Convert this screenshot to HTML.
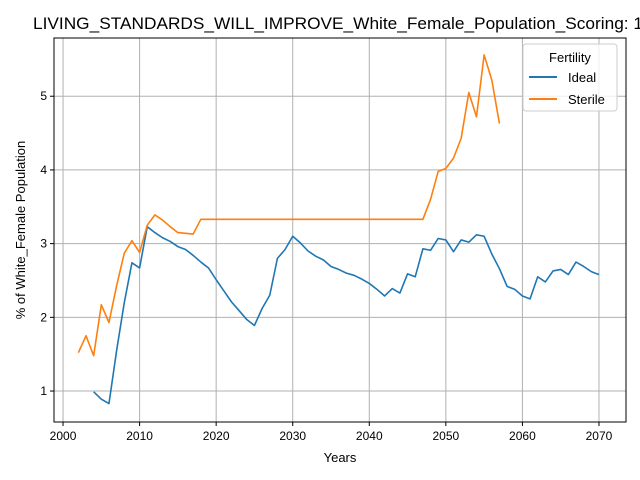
<!DOCTYPE html>
<html><head><meta charset="utf-8"><style>
html,body{margin:0;padding:0;background:#fff;}
svg{display:block;font-family:"Liberation Sans","DejaVu Sans",sans-serif;}
</style></head><body>
<svg id="chart" width="640" height="480" viewBox="0 0 640 480">
<rect width="640" height="480" fill="#fff"/>
<text x="33" y="29" font-size="17" textLength="610" lengthAdjust="spacingAndGlyphs" fill="#000">LIVING_STANDARDS_WILL_IMPROVE_White_Female_Population_Scoring: 1</text>
<g id="grid"></g>
<g id="series"></g>
<rect x="54" y="38" width="572" height="384" fill="none" stroke="#000" stroke-width="1"/>
<g id="ticks" font-size="12" fill="#000"></g>
<text x="340" y="462" font-size="13" text-anchor="middle">Years</text>
<text transform="translate(25,230) rotate(-90)" font-size="13" text-anchor="middle">% of White_Female Population</text>
<g>
<rect x="523" y="44" width="94" height="67" rx="3" fill="#fff" fill-opacity="0.8" stroke="#ccc"/>
<text x="570" y="62" font-size="13" text-anchor="middle">Fertility</text>
<g><line x1="529" y1="77" x2="557" y2="77" stroke="#1f77b4" stroke-width="2"/><text x="568" y="82" font-size="13">Ideal</text></g>
<g><line x1="529" y1="99" x2="557" y2="99" stroke="#ff7f0e" stroke-width="2"/><text x="568" y="104" font-size="13">Sterile</text></g>
</g>
</svg>
<script>
const idealStart = 2004;
const idealValues = [0.99,0.89,0.83,1.55,2.2,2.74,2.67,3.23,3.15,3.08,3.03,2.96,2.92,2.84,2.75,2.67,2.51,2.36,2.21,2.09,1.97,1.89,2.12,2.3,2.8,2.92,3.10,3.01,2.90,2.83,2.78,2.69,2.65,2.60,2.57,2.52,2.46,2.38,2.29,2.39,2.33,2.59,2.55,2.93,2.91,3.07,3.05,2.89,3.05,3.02,3.12,3.10,2.86,2.66,2.42,2.38,2.29,2.25,2.55,2.48,2.63,2.65,2.58,2.75,2.69,2.62,2.58];
const sterileStart = 2002;
const sterileValues = [1.52,1.75,1.48,2.17,1.93,2.43,2.87,3.04,2.88,3.25,3.39,3.32,3.23,3.15,3.14,3.13,3.33,3.33,3.33,3.33,3.33,3.33,3.33,3.33,3.33,3.33,3.33,3.33,3.33,3.33,3.33,3.33,3.33,3.33,3.33,3.33,3.33,3.33,3.33,3.33,3.33,3.33,3.33,3.33,3.33,3.33,3.6,3.98,4.02,4.16,4.43,5.05,4.72,5.56,5.22,4.63];
const xTicks = [2000,2010,2020,2030,2040,2050,2060,2070];
const yTicks = [1,2,3,4,5];

const NS = "http://www.w3.org/2000/svg";
const X0=54,X1=626,Y0=38,Y1=422;
const xMin=1998.82,xMax=2073.53,yMin=0.58,yMax=5.79;
function xs(v){return X0+(v-xMin)/(xMax-xMin)*(X1-X0);}
function ys(v){return Y1-(v-yMin)/(yMax-yMin)*(Y1-Y0);}
function mk(tag,attrs,parent){const e=document.createElementNS(NS,tag);for(const k in attrs)e.setAttribute(k,attrs[k]);parent.appendChild(e);return e;}
const grid=document.getElementById('grid'),ticks=document.getElementById('ticks'),series=document.getElementById('series');
xTicks.forEach(t=>{const x=xs(t);
  const g=mk('line',{x1:x,x2:x,y1:Y0,y2:Y1,stroke:'#b0b0b0','stroke-width':1},grid);
  
  
  mk('line',{x1:x,x2:x,y1:Y1,y2:Y1+4,stroke:'#000'},ticks);
  const l=mk('text',{x:x,y:Y1+18,'text-anchor':'middle'},ticks);l.textContent=t;
  
  
});
yTicks.forEach(t=>{const y=ys(t);
  const g=mk('line',{x1:X0,x2:X1,y1:y,y2:y,stroke:'#b0b0b0','stroke-width':1},grid);
  
  
  mk('line',{x1:X0-4,x2:X0,y1:y,y2:y,stroke:'#000'},ticks);
  const l=mk('text',{x:X0-7,y:y+4,'text-anchor':'end'},ticks);l.textContent=t;
  
  
});
function line(start,vals,color,name){
  const pts=vals.map((v,i)=>xs(start+i).toFixed(2)+','+ys(v).toFixed(2)).join(' ');
  const p=mk('polyline',{points:pts,fill:'none',stroke:color,'stroke-width':1.6,'stroke-linejoin':'round'},series);
  
  
}
line(idealStart,idealValues,'#1f77b4','ideal-line');
line(sterileStart,sterileValues,'#ff7f0e','sterile-line');
</script>
</body></html>
